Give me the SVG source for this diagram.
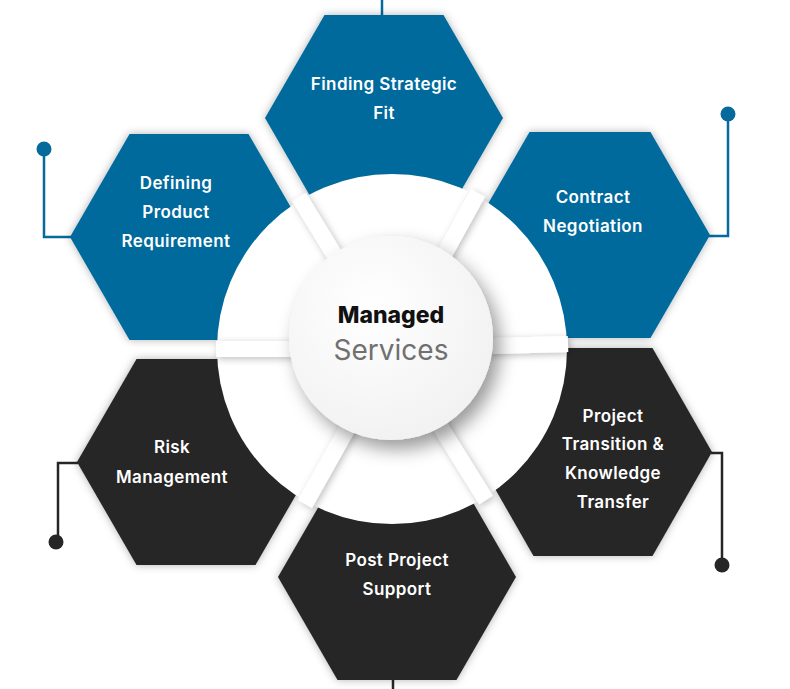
<svg xmlns="http://www.w3.org/2000/svg" width="790" height="689" viewBox="0 0 790 689">
  <style>
    .blue { fill: #066a9c; }
    .dark { fill: #262626; }
    .lbl { font-family: Inter, "Noto Sans", "Liberation Sans", sans-serif; font-size: 17px; font-weight: 600; letter-spacing: 0.4px; fill: #ffffff; text-anchor: middle; }
    .lnb { stroke: #066a9c; stroke-width: 2.5; fill: none; }
    .lnd { stroke: #262626; stroke-width: 2.5; fill: none; }
    .spoke { stroke: #ffffff; stroke-width: 16; stroke-linecap: butt; fill: none; }
  </style>
  <defs>
    <filter id="hexGlow" x="-20%" y="-20%" width="140%" height="140%">
      <feDropShadow dx="0" dy="0" stdDeviation="4" flood-color="#000" flood-opacity="0.3"/>
    </filter>
    <filter id="spokeShadow" x="-30%" y="-30%" width="160%" height="160%">
      <feDropShadow dx="2" dy="2" stdDeviation="3.5" flood-color="#000" flood-opacity="0.25"/>
    </filter>
    <filter id="hubShadow" x="-40%" y="-40%" width="180%" height="180%">
      <feDropShadow dx="7" dy="9" stdDeviation="9" flood-color="#000" flood-opacity="0.4"/>
    </filter>
    <radialGradient id="hubFill" cx="0.4" cy="0.35" r="0.7">
      <stop offset="0" stop-color="#ffffff"/>
      <stop offset="1" stop-color="#f1f1f1"/>
    </radialGradient>
  </defs>
  <rect width="790" height="689" fill="#ffffff"/>

  <g id="connectors">
    <line class="lnb" x1="382" y1="0" x2="382" y2="16"/>
    <polyline class="lnb" points="44,149 44,237 71,237"/>
    <circle cx="44" cy="149" r="7.5" fill="#066a9c"/>
    <polyline class="lnb" points="708,236 728,236 728,114"/>
    <circle cx="728" cy="114" r="7.5" fill="#066a9c"/>
    <polyline class="lnd" points="78,463 58,463 58,542"/>
    <circle cx="56" cy="542" r="7.5" fill="#262626"/>
    <polyline class="lnd" points="711,453 722,453 722,565"/>
    <circle cx="722" cy="565" r="7.5" fill="#262626"/>
    <line class="lnd" x1="393" y1="668" x2="393" y2="689"/>
  </g>

  <g id="node-finding-strategic-fit">
    <polygon class="blue" filter="url(#hexGlow)" points="265,118 324.5,15 443.5,15 503,118 443.5,221 324.5,221"/>
    <text class="lbl" x="384" y="90">Finding Strategic</text>
    <text class="lbl" x="384" y="119">Fit</text>
  </g>
  <g id="node-defining-product-requirement">
    <polygon class="blue" filter="url(#hexGlow)" points="70,237 129.5,134 248.5,134 308,237 248.5,340 129.5,340"/>
    <text class="lbl" x="176" y="189">Defining</text>
    <text class="lbl" x="176" y="218">Product</text>
    <text class="lbl" x="176" y="247">Requirement</text>
  </g>
  <g id="node-contract-negotiation">
    <polygon class="blue" filter="url(#hexGlow)" points="470,235 529.5,132 650.5,132 710,235 650.5,338 529.5,338"/>
    <text class="lbl" x="593" y="203">Contract</text>
    <text class="lbl" x="593" y="232">Negotiation</text>
  </g>
  <g id="node-risk-management">
    <polygon class="dark" filter="url(#hexGlow)" points="77,462 136.5,359 255.5,359 315,462 255.5,565 136.5,565"/>
    <text class="lbl" x="172" y="453">Risk</text>
    <text class="lbl" x="172" y="483">Management</text>
  </g>
  <g id="node-project-transition">
    <polygon class="dark" filter="url(#hexGlow)" points="474,452 533.5,348 652.5,348 712,452 652.5,556 533.5,556"/>
    <text class="lbl" x="613" y="422">Project</text>
    <text class="lbl" x="613" y="450">Transition &amp;</text>
    <text class="lbl" x="613" y="479">Knowledge</text>
    <text class="lbl" x="613" y="508">Transfer</text>
  </g>
  <g id="node-post-project-support">
    <polygon class="dark" filter="url(#hexGlow)" points="278,577 337.5,474 456.5,474 516,577 456.5,680 337.5,680"/>
    <text class="lbl" x="397" y="566">Post Project</text>
    <text class="lbl" x="397" y="595">Support</text>
  </g>

  <g id="hub-ring">
    <circle cx="392" cy="349" r="175" fill="#ffffff"/>
    <g filter="url(#spokeShadow)">
      <line class="spoke" x1="392" y1="349" x2="299" y2="197"/>
      <line class="spoke" x1="392" y1="349" x2="478" y2="193"/>
      <line class="spoke" x1="392" y1="349" x2="216" y2="349"/>
      <line class="spoke" x1="392" y1="349" x2="568" y2="344"/>
      <line class="spoke" x1="392" y1="349" x2="305" y2="504"/>
      <line class="spoke" x1="392" y1="349" x2="486" y2="500"/>
    </g>
  </g>

  <g id="node-managed-services">
    <circle cx="391" cy="338" r="102" fill="url(#hubFill)" filter="url(#hubShadow)"/>
    <text x="391" y="323" text-anchor="middle" font-family="Inter, 'Noto Sans', 'Liberation Sans', sans-serif" font-size="23" font-weight="800" fill="#111111">Managed</text>
    <text x="391" y="360" text-anchor="middle" font-family="Inter, 'Noto Sans', 'Liberation Sans', sans-serif" font-size="28" font-weight="400" fill="#707070">Services</text>
  </g>
</svg>
